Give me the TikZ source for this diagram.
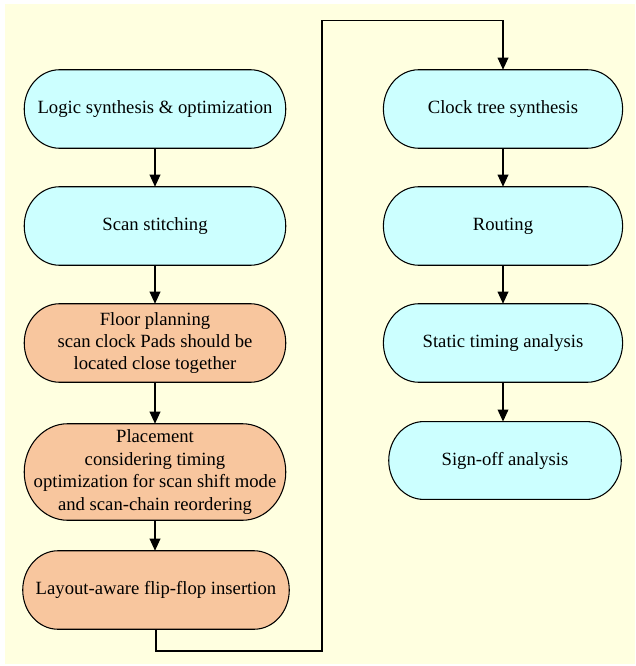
\documentclass[tikz,border=0pt]{standalone}
\usepackage{fontspec}
\setmainfont{Liberation Serif}
\usepackage{tikz}
\usetikzlibrary{arrows.meta, positioning, calc, backgrounds}
\definecolor{paleyellow}{RGB}{255,255,224}
\definecolor{stagecyan}{RGB}{204,255,255}
\definecolor{stageorange}{RGB}{248,198,158}

\tikzset{
  stage/.style={rectangle, inner sep=0pt, align=center, font=\fontsize{14}{16.8}\selectfont},
  pill/.style={draw=black, line width=0.8pt},
  flow/.style={line width=1pt, -{Triangle[length=9pt, width=8pt]}}
}

\begin{document}
\begin{tikzpicture}[x=0.75pt, y=-0.75pt]
  \useasboundingbox (0,0) rectangle (635,666);
  % Left column: synthesis and placement
  \node[stage, minimum width=195.75pt, minimum height=58.5pt] (logic) at (155,109) {Logic synthesis \& optimization};
  \node[stage, minimum width=195.75pt, minimum height=58.5pt] (scan) at (155,226) {Scan stitching};
  \node[stage, minimum width=195.75pt, minimum height=58.5pt] (floor) at (155,343) {Floor planning\\scan clock Pads should be\\located close together};
  \node[stage, minimum width=195.75pt, minimum height=72pt] (place) at (155,472) {Placement\\considering timing\\optimization for scan shift mode\\and scan-chain reordering};
  \node[stage, minimum width=199.5pt, minimum height=58.5pt] (layout) at (156,590) {Layout-aware flip-flop insertion};
  % Right column: clock tree to sign-off
  \node[stage, minimum width=179pt, minimum height=58.5pt] (clock) at (503,109) {Clock tree synthesis};
  \node[stage, minimum width=179pt, minimum height=58.5pt] (route) at (503,226) {Routing};
  \node[stage, minimum width=179pt, minimum height=58.5pt] (sta) at (503,343) {Static timing analysis};
  \node[stage, minimum width=174pt, minimum height=58pt] (signoff) at (505,460.5) {Sign-off analysis};

  % Panel and terminator outlines behind the text
  \begin{scope}[on background layer]
    \fill[paleyellow] (5,4) rectangle (635,664);
    \foreach \nm/\col in {logic/stagecyan, scan/stagecyan, floor/stageorange, place/stageorange,
        layout/stageorange, clock/stagecyan, route/stagecyan, sta/stagecyan, signoff/stagecyan}
      \draw[pill, fill=\col] let \p1=(\nm.north west), \p2=(\nm.south east),
          \n1={(\y1-\y2)/2}, \n2={0.9*(\y1-\y2)/2} in
        (\x1+\n2,\y1) -- (\x2-\n2,\y1)
        arc[start angle=90, end angle=-90, x radius=\n2, y radius=\n1]
        -- (\x1+\n2,\y2)
        arc[start angle=270, end angle=90, x radius=\n2, y radius=\n1] -- cycle;
  \end{scope}

  % Connectors
  \draw[flow] (logic.south) -- (scan.north);
  \draw[flow] (scan.south) -- (floor.north);
  \draw[flow] (floor.south) -- (place.north);
  \draw[flow] (place.south) -- (place.south |- layout.north);
  \coordinate (bendlow) at (322,651);
  \coordinate (bendhigh) at (322,20.5);
  \draw[line width=1pt] (layout.south) |- (bendlow) -- (bendhigh) -- (bendhigh -| clock.north);
  \draw[flow] (bendhigh -| clock.north) -- (clock.north);
  \draw[flow] (clock.south) -- (route.north);
  \draw[flow] (route.south) -- (sta.north);
  \draw[flow] (sta.south) -- (sta.south |- signoff.north);
\end{tikzpicture}
\end{document}
